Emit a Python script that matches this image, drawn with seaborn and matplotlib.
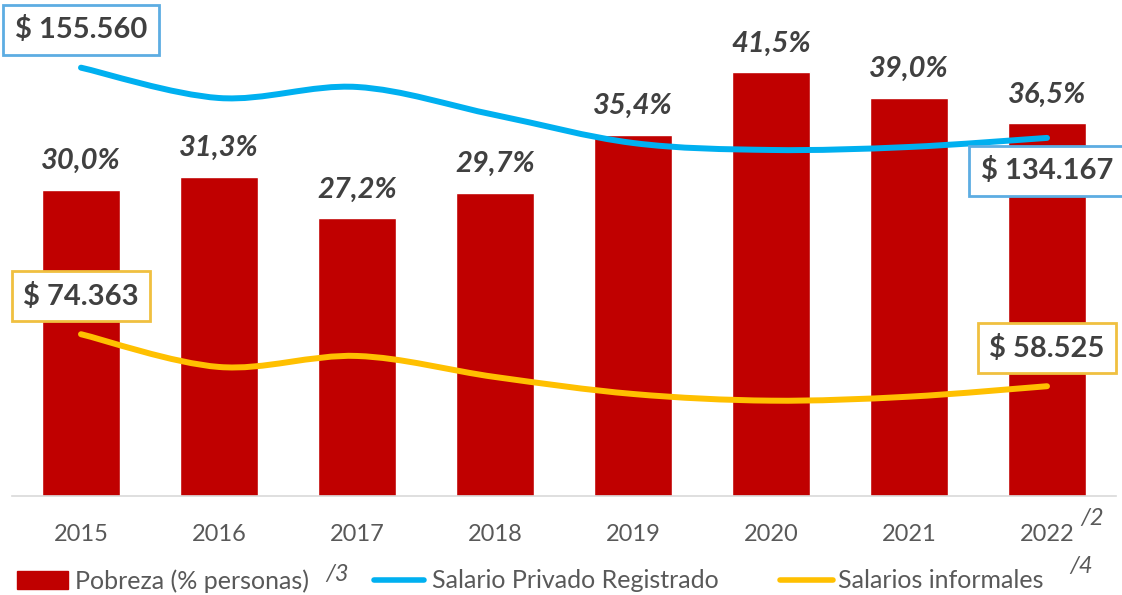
import numpy as np
import pandas as pd
import matplotlib
matplotlib.use("Agg")
import matplotlib.pyplot as plt
import seaborn as sns
from matplotlib.path import Path
from matplotlib.patches import PathPatch, Patch
from matplotlib.lines import Line2D

years = ["2015", "2016", "2017", "2018", "2019", "2020", "2021", "2022"]
pobreza = [30.0, 31.3, 27.2, 29.7, 35.4, 41.5, 39.0, 36.5]
salario_privado = [155560, 146320, 149680, 141150, 132620, 130490, 131400, 134167]
salario_informal = [74363, 64390, 67740, 61340, 56160, 54120, 55340, 58525]

RED = "#C00000"
BLUE = "#00B0F0"
YELLOW = "#FFC000"
TXT = "#404040"
TICK = "#595959"

sns.set_theme(style="white")
plt.rcParams["font.family"] = ["Lato", "DejaVu Sans"]

W, H = 1122, 595
fig = plt.figure(figsize=(W / 100, H / 100), dpi=100)
ax = fig.add_axes([12 / W, 99 / H, 1104 / W, 496 / H])

df = pd.DataFrame({"year": years, "pobreza": pobreza})
sns.barplot(data=df, x="year", y="pobreza", color=RED, saturation=1,
            width=0.572, ax=ax)
ax.set_xlim(-0.5, 7.5)
ax.set_ylim(0, 48.6)
ax.set_xlabel("")
ax.set_ylabel("")
ax.set_yticks([])
for s in ["top", "left", "right"]:
    ax.spines[s].set_visible(False)
ax.spines["bottom"].set_color("#D9D9D9")
ax.spines["bottom"].set_linewidth(1.2)
ax.tick_params(axis="x", length=0, pad=20, labelsize=17, labelcolor=TICK)

for i, v in enumerate(pobreza):
    ax.annotate(f"{v:.1f}%".replace(".", ","), (i, v), xytext=(0, 29),
                textcoords="offset pixels", ha="center", va="center",
                fontsize=21, fontweight="bold", style="italic", color=TXT)

ax.annotate("/2", (7, 0), xytext=(45, -22), textcoords="offset pixels",
            ha="center", va="center", fontsize=17, style="italic", color=TICK,
            annotation_clip=False)

ax2 = ax.twinx()
ax2.set_ylim(25080, 176175)
ax2.set_yticks([])
for s in ax2.spines.values():
    s.set_visible(False)


def smooth_path(xs, ys):
    pts = np.column_stack([xs, ys]).astype(float)
    n = len(pts)
    verts = [pts[0]]
    codes = [Path.MOVETO]
    for i in range(n - 1):
        p0 = pts[i - 1] if i > 0 else pts[i]
        p1 = pts[i]
        p2 = pts[i + 1]
        p3 = pts[i + 2] if i + 2 < n else pts[i + 1]
        c1 = p1 + (p2 - p0) / 6.0
        c2 = p2 - (p3 - p1) / 6.0
        verts += [c1, c2, p2]
        codes += [Path.CURVE4] * 3
    return Path(verts, codes)


xpos = np.arange(len(years))
for vals, col in [(salario_privado, BLUE), (salario_informal, YELLOW)]:
    patch = PathPatch(smooth_path(xpos, vals), fill=False, edgecolor=col,
                      lw=4.3, capstyle="round", joinstyle="round")
    ax2.add_patch(patch)


def money(v):
    return "$ " + f"{v:,}".replace(",", ".")


labels = [
    (0, salario_privado[0], 38, "#5DADE2"),
    (7, salario_privado[-1], -33, "#5DADE2"),
    (0, salario_informal[0], 38, "#F0C040"),
    (7, salario_informal[-1], 38, "#F0C040"),
]
for x, v, dy, ec in labels:
    ax2.annotate(money(v), (x, v), xytext=(0, dy), textcoords="offset pixels",
                 ha="center", va="center", fontsize=21, fontweight="bold",
                 color=TXT, annotation_clip=False,
                 bbox=dict(boxstyle="square,pad=0.4", fc="white", ec=ec, lw=2))

entries = [
    (Patch(facecolor=RED, edgecolor=RED), "Pobreza (% personas)", 17, 2.04, 0.28),
    (Line2D([0], [0], color=BLUE, lw=4, solid_capstyle="round"),
     "Salario Privado Registrado", 374, 2.0, 0.3),
    (Line2D([0], [0], color=YELLOW, lw=4, solid_capstyle="round"),
     "Salarios informales", 780, 2.12, 0.2),
]
for h, name, x0, hl, tp in entries:
    lg = fig.legend([h], [name], loc="center left",
                    bbox_to_anchor=(x0 / W, (H - 581) / H),
                    frameon=False, fontsize=18, handlelength=hl,
                    handletextpad=tp, borderpad=0, borderaxespad=0,
                    labelcolor=TICK)

fig.text(337 / W, 1 - 575 / H, "/3", ha="center", va="center", fontsize=17,
         style="italic", color=TICK)
fig.text(1081 / W, 1 - 567 / H, "/4", ha="center", va="center", fontsize=17,
         style="italic", color=TICK)

fig.savefig("out.png", dpi=100)
